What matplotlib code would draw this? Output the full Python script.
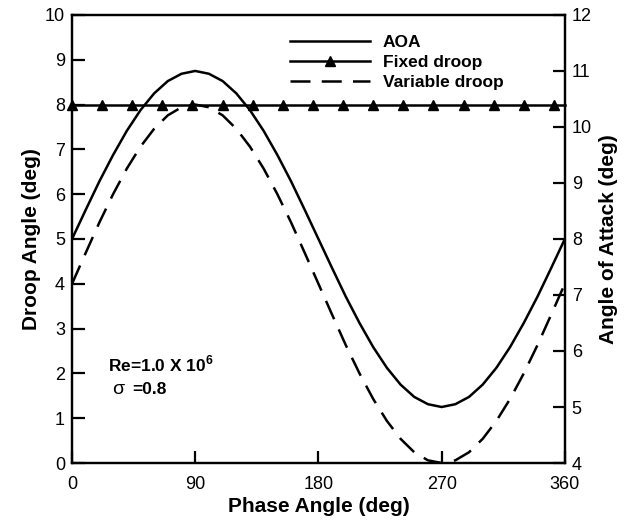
import matplotlib
matplotlib.use("Agg")
import matplotlib.pyplot as plt

plt.rcParams["font.family"] = ["Liberation Sans", "DejaVu Sans"]
plt.rcParams["mathtext.fontset"] = "custom"
plt.rcParams["mathtext.rm"] = "Liberation Sans"
plt.rcParams["mathtext.bf"] = "Liberation Sans:bold"

# ---- data ----
phase = [0, 10, 20, 30, 40, 50, 60, 70, 80, 90, 100, 110, 120, 130, 140, 150,
         160, 170, 180, 190, 200, 210, 220, 230, 240, 250, 260, 270, 280, 290,
         300, 310, 320, 330, 340, 350, 360]
aoa = [8.0, 8.52, 9.03, 9.5, 9.93, 10.3, 10.6, 10.82, 10.95, 11.0, 10.95,
       10.82, 10.6, 10.3, 9.93, 9.5, 9.03, 8.52, 8.0, 7.48, 6.97, 6.5, 6.07,
       5.7, 5.4, 5.18, 5.05, 5.0, 5.05, 5.18, 5.4, 5.7, 6.07, 6.5, 6.97, 7.48,
       8.0]
variable_droop = [4.0, 4.69, 5.37, 6.0, 6.57, 7.06, 7.46, 7.76, 7.94, 8.0,
                  7.94, 7.76, 7.46, 7.06, 6.57, 6.0, 5.37, 4.69, 4.0, 3.31,
                  2.63, 2.0, 1.43, 0.94, 0.54, 0.24, 0.06, 0.0, 0.06, 0.24,
                  0.54, 0.94, 1.43, 2.0, 2.63, 3.31, 4.0]
fixed_phase = [0, 22, 44, 66, 88, 110, 132, 154, 176, 198, 220, 242, 264,
               286, 308, 330, 352, 360]
fixed_droop = [8] * len(fixed_phase)

x_ticks = [0, 90, 180, 270, 360]

fig = plt.figure(figsize=(6.29, 5.21), dpi=100)
ax = fig.add_axes([0.1145, 0.1113, 0.7835, 0.86])
ax2 = ax.twinx()

lw = 1.8
h_aoa, = ax2.plot(phase, aoa, color="black", lw=lw, label="AOA")
h_fix, = ax.plot(fixed_phase, fixed_droop, color="black", lw=lw, marker="^",
                 ms=7, markevery=slice(0, 17), clip_on=False, zorder=5,
                 label="Fixed droop")
h_var, = ax.plot(phase, variable_droop, color="black", lw=lw,
                 dashes=(8, 4.5), label="Variable droop")

ax.set_xlim(0, 360)
ax.set_ylim(0, 10)
ax2.set_ylim(4, 12)
ax.set_xticks(x_ticks)
ax.set_yticks(range(0, 11))
ax2.set_yticks(range(4, 13))

for a in (ax, ax2):
    for s in a.spines.values():
        s.set_linewidth(1.6)
    a.tick_params(direction="in", length=9, width=1.6, labelsize=13, pad=5)
ax.tick_params(axis="x", pad=9)
ax.tick_params(top=False)

ax.set_xlabel("Phase Angle (deg)", fontsize=15, fontweight="bold", labelpad=3)
ax.set_ylabel("Droop Angle (deg)", fontsize=15, fontweight="bold", labelpad=3)
ax2.set_ylabel("Angle of Attack (deg)", fontsize=15, fontweight="bold",
               labelpad=5)

leg = ax2.legend([h_aoa, h_fix, h_var],
                 ["AOA", "Fixed droop", "Variable droop"],
                 loc="upper left", bbox_to_anchor=(0.41, 0.99), frameon=False,
                 handlelength=4.6, handletextpad=0.75, labelspacing=0.28,
                 prop={"weight": "bold", "size": 12.5})

ax.text(0.073, 0.205, r"Re=1.0 X 10$^{\mathbf{6}}$", transform=ax.transAxes,
        fontsize=12.5, fontweight="bold")
ax.text(0.081, 0.155, "\u03c3", transform=ax.transAxes, fontsize=14)
ax.text(0.122, 0.155, "=0.8", transform=ax.transAxes, fontsize=12.5,
        fontweight="bold")

fig.savefig("out.png", dpi=100)
